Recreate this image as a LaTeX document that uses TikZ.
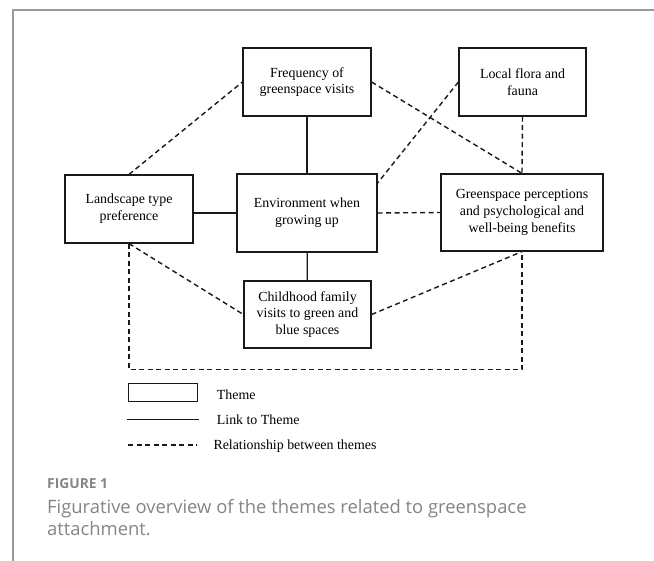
\documentclass[tikz,border=0pt]{standalone}
\usepackage{fontspec}
\setmainfont{Liberation Serif}
\newfontfamily\capfont{Open Sans}
\definecolor{framegray}{HTML}{9A9A9A}
\definecolor{capgray}{HTML}{858585}
\begin{document}
\begin{tikzpicture}[x=1pt,y=-1pt,
  themebox/.style={draw=black!90,line width=1.2pt,align=center,inner sep=0pt,
    font=\fontsize{13.9}{16.7}\selectfont},
  linkline/.style={draw=black!90,line width=1.2pt},
  relline/.style={draw=black!90,line width=1.4pt,dash pattern=on 5pt off 3.5pt},
  legtext/.style={anchor=base west,inner sep=0pt,font=\fontsize{13.9}{16.7}\selectfont}]
  \useasboundingbox (0,0) rectangle (654,561);
  \coordinate (ftop) at (654,10);
  \coordinate (fcorner) at (13,10);
  \coordinate (fbot) at (13,561);
  \draw[framegray,line width=1.3pt] (ftop) -- (fcorner) -- (fbot);

  \node[themebox,minimum width=128pt,minimum height=68pt] (freq) at (307,82) {Frequency of\\greenspace visits};
  \node[themebox,minimum width=127pt,minimum height=68pt] (flora) at (522.5,82) {Local flora and\\fauna};
  \node[themebox,minimum width=128pt,minimum height=68pt] (land) at (129,209) {Landscape type\\preference};
  \node[themebox,minimum width=140pt,minimum height=78pt] (env) at (307,213) {Environment when\\growing up};
  \node[themebox,minimum width=162pt,minimum height=77pt] (percep) at (522,212.5) {Greenspace perceptions\\and psychological and\\well-being benefits};
  \node[themebox,minimum width=127pt,minimum height=67pt] (child) at (307.5,314.5) {Childhood family\\visits to green and\\blue spaces};

  \draw[linkline] (freq) -- (env);
  \draw[linkline] (env.west) -- (env.west -| land.east);
  \draw[linkline] (env) -- (child);

  \draw[relline] (land.north) -- (freq.west);
  \draw[relline] (freq.east) -- (percep.north);
  \draw[relline] (flora.west) -- (env.23);
  \draw[relline] (flora.south) -- (percep.north);
  \draw[relline] (env.east) -- (percep.west);
  \draw[relline] (land.south) -- (child.west);
  \draw[relline] (child.east) -- (percep.south);
  \draw[relline] (land.south) -- ++(0,126) -| (percep.south);

  \node[draw=black!90,line width=1.2pt,minimum width=69pt,minimum height=18pt,inner sep=0pt] (legbox) at (163,392.5) {};
  \node[legtext] (legtheme) at (216.7,400) {Theme};
  \coordinate (linka) at (126.7,419.3);
  \coordinate (linkb) at (199.3,419.3);
  \draw[linkline] (linka) -- (linkb);
  \node[legtext] (leglink) at (216.7,424.3) {Link to Theme};
  \coordinate (rela) at (128,445);
  \coordinate (relb) at (197,445);
  \draw[relline] (rela) -- (relb);
  \node[legtext] (legrel) at (213.3,449.5) {Relationship between themes};

  \node[anchor=base west,inner sep=0pt,text=capgray,font=\capfont\bfseries\fontsize{13.8}{16}\selectfont] (fig) at (47,488.3) {FIGURE 1};
  \node[anchor=base west,inner sep=0pt,text=capgray,font=\capfont\fontsize{18.4}{22.7}\selectfont] (cap1) at (47,513.3) {Figurative overview of the themes related to greenspace};
  \node[anchor=base west,inner sep=0pt,text=capgray,font=\capfont\fontsize{18.4}{22.7}\selectfont] (cap2) at (47,536) {attachment.};
\end{tikzpicture}
\end{document}
